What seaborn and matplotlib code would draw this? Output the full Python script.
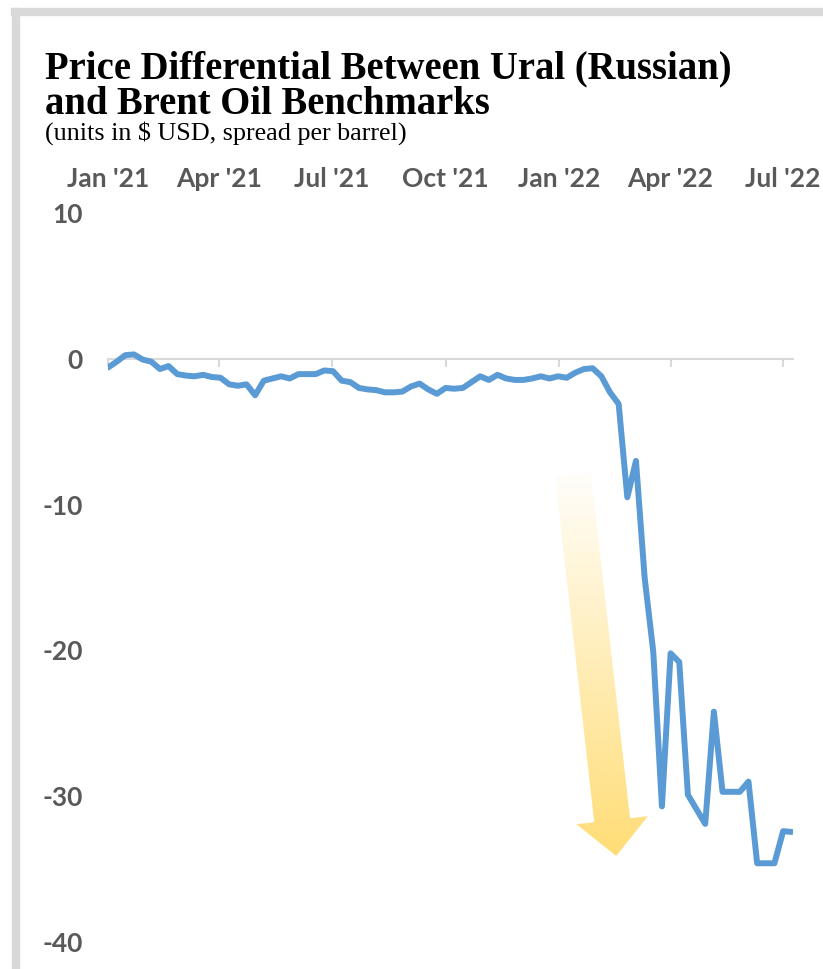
import matplotlib
matplotlib.use('Agg')
import matplotlib.pyplot as plt
import seaborn as sns
import pandas as pd
import numpy as np
from matplotlib.patches import Polygon
from matplotlib.lines import Line2D

# weekly Ural - Brent spread, $ per barrel
start_date = '2021-01-01'
spread = [
    -0.6, -0.2, 0.25, 0.3, -0.05, -0.2, -0.7, -0.5, -1.05, -1.15,
    -1.2, -1.1, -1.25, -1.3, -1.75, -1.85, -1.75, -2.5, -1.5, -1.35,
    -1.2, -1.35, -1.05, -1.05, -1.05, -0.8, -0.85, -1.5, -1.6, -2.0,
    -2.1, -2.15, -2.3, -2.3, -2.25, -1.9, -1.7, -2.1, -2.4, -2.0,
    -2.05, -2.0, -1.6, -1.2, -1.45, -1.1, -1.35, -1.45, -1.45, -1.35,
    -1.2, -1.35, -1.2, -1.3, -0.95, -0.7, -0.65, -1.2, -2.3, -3.1,
    -9.5, -7.0, -15.0, -20.1, -30.7, -20.2, -20.8, -29.9, -30.9, -31.9,
    -24.2, -29.7, -29.7, -29.7, -29.0, -34.6, -34.6, -34.6, -32.4, -32.45,
]
tick_dates = ['2021-01-01', '2021-04-01', '2021-07-01', '2021-10-01',
              '2022-01-01', '2022-04-01', '2022-07-01']
tick_labels = ["Jan '21", "Apr '21", "Jul '21", "Oct '21",
               "Jan '22", "Apr '22", "Jul '22"]
y_ticks = [10, 0, -10, -20, -30, -40]

# arrow annotation (start, tip) in data units
arrow_start = ('2022-01-12', -7.9)
arrow_end = ('2022-02-16', -34.1)

df = pd.DataFrame({
    'date': pd.date_range(start_date, periods=len(spread), freq='7D'),
    'spread': spread,
})

sns.set_style('white')
W, H = 823, 969
fig = plt.figure(figsize=(W / 100, H / 100), dpi=100)
ax = fig.add_axes([108 / W, 27 / H, (793 - 108) / W, (942 - 213) / H])

sns.lineplot(data=df, x='date', y='spread', ax=ax, color='#5b9bd5', linewidth=4.3)
for ln in ax.lines:
    ln.set_solid_joinstyle('round')
    ln.set_solid_capstyle('round')

ax.set_ylim(-40, 10)
ax.set_xlim(pd.Timestamp('2021-01-01'), pd.Timestamp('2022-07-09'))
ax.set_xticks(pd.to_datetime(tick_dates))
ax.set_xticklabels(tick_labels)
ax.set_yticks(y_ticks)
ax.set_yticklabels([str(v) for v in y_ticks])
ax.set_xlabel('')
ax.set_ylabel('')

for s in ['left', 'right', 'top']:
    ax.spines[s].set_visible(False)
ax.spines['bottom'].set_position(('data', 0))
ax.spines['bottom'].set_color('#d9d9d9')
ax.spines['bottom'].set_linewidth(1.5)
ax.spines['bottom'].set_zorder(0.5)

ax.tick_params(axis='x', bottom=True, top=False, labelbottom=False, labeltop=True,
               length=6, width=1.5, color='#d9d9d9', direction='out', pad=10)
ax.tick_params(axis='y', left=False, length=0, pad=18)
for lab in ax.get_xticklabels() + ax.get_yticklabels():
    lab.set_fontfamily('Lato')
    lab.set_fontweight('bold')
    lab.set_fontsize(19)
    lab.set_color('#595959')

# gradient arrow
p0 = ax.transData.transform((matplotlib.dates.date2num(pd.Timestamp(arrow_start[0])), arrow_start[1]))
p1 = ax.transData.transform((matplotlib.dates.date2num(pd.Timestamp(arrow_end[0])), arrow_end[1]))
d = p1 - p0
u = d / np.hypot(*d)
n = np.array([-u[1], u[0]])
hw, hhw, hl = 18, 36, 36
base = p1 - u * hl
pts = np.array([p0 + n * hw, base + n * hw, base + n * hhw, p1,
                base - n * hhw, base - n * hw, p0 - n * hw])
pts_data = ax.transData.inverted().transform(pts)
poly = Polygon(pts_data, closed=True, facecolor='none', edgecolor='none')
ax.add_patch(poly)
grad = np.zeros((256, 1, 4))
grad[:, 0, 0] = 1.0
grad[:, 0, 1] = 217 / 255
grad[:, 0, 2] = 102 / 255
grad[:, 0, 3] = np.linspace(0.03, 0.9, 256)
xmin, ymin = pts_data.min(axis=0)
xmax, ymax = pts_data.max(axis=0)
im = ax.imshow(grad, extent=[xmin, xmax, ymin, ymax], origin='upper',
               aspect='auto', zorder=1, interpolation='bilinear')
im.set_clip_path(poly)
ax.set_xlim(pd.Timestamp('2021-01-01'), pd.Timestamp('2022-07-09'))
ax.set_ylim(-40, 10)

# frame
fig.add_artist(Line2D([15 / W, 1], [1 - 12 / H] * 2, color='#d9d9d9', lw=6,
                      solid_capstyle='projecting'))
fig.add_artist(Line2D([16 / W] * 2, [1 - 12 / H, 0], color='#d9d9d9', lw=6,
                      solid_capstyle='projecting'))

fig.text(45 / W, 1 - 78 / H, 'Price Differential Between Ural (Russian)',
         fontsize=27.8, fontweight='bold', family='Liberation Serif',
         color='black', va='baseline')
fig.text(45 / W, 1 - 114 / H, 'and Brent Oil Benchmarks',
         fontsize=27.8, fontweight='bold', family='Liberation Serif',
         color='black', va='baseline')
fig.text(45 / W, 1 - 140 / H, '(units in $ USD, spread per barrel)',
         fontsize=18.8, family='Liberation Serif', color='black', va='baseline')

fig.savefig('out.png', dpi=100)
